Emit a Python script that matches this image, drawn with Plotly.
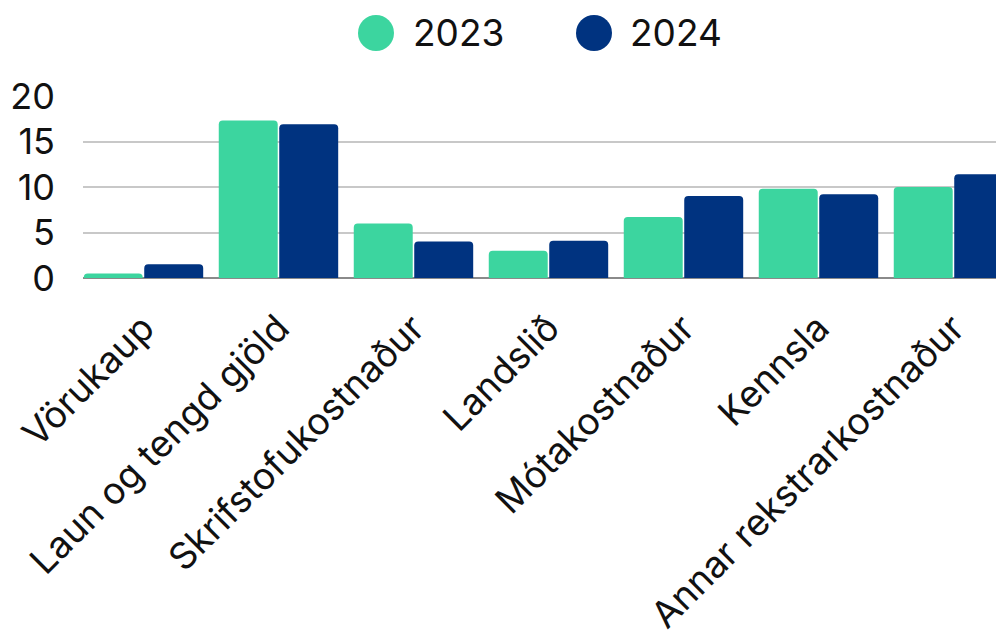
import plotly.graph_objects as go

categories = ["Vörukaup", "Laun og tengd gjöld", "Skrifstofukostnaður", "Landslið",
              "Mótakostnaður", "Kennsla", "Annar rekstrarkostnaður"]
values_2023 = [0.5, 17.3, 6.0, 3.0, 6.7, 9.8, 10.0]
values_2024 = [1.5, 16.9, 4.0, 4.1, 9.0, 9.2, 11.4]
series_names = ["2023", "2024"]
y_ticks = [0, 5, 10, 15, 20]

GREEN = "#3CD59F"
BLUE = "#003380"
FONT = "Inter"

OFF = 8  # page body margin
W, H = 1004, 639
L, R, T, B = 75, 0, 88, 369
PW, PH = W - L - R, H - T - B
CAT_PX = 135.0
x0 = -0.448
x_range = [x0, x0 + PW / CAT_PX]

fig = go.Figure()
fig.add_trace(go.Bar(x=categories, y=values_2023, name=series_names[0],
                     marker=dict(color=GREEN, cornerradius=4, line=dict(width=0)),
                     showlegend=False))
fig.add_trace(go.Bar(x=categories, y=values_2024, name=series_names[1],
                     marker=dict(color=BLUE, cornerradius=4, line=dict(width=0)),
                     showlegend=False))


def px_to_paper(sx, sy):
    fx, fy = sx - OFF, sy - OFF
    return (fx - L) / PW, (H - B - fy) / PH


shapes = []
annotations = []
for cx, tx, color, label in [(376, 411, GREEN, series_names[0]), (594, 628, BLUE, series_names[1])]:
    xp, yp = px_to_paper(cx, 33)
    shapes.append(dict(type="circle", xref="paper", yref="paper", xsizemode="pixel", ysizemode="pixel",
                       xanchor=xp, yanchor=yp, x0=-18, x1=18, y0=-18, y1=18,
                       fillcolor=color, line=dict(width=0)))
    txp, typ = px_to_paper(tx, 33)
    annotations.append(dict(text=label, xref="paper", yref="paper", x=txp, y=typ,
                            xanchor="left", yanchor="middle", showarrow=False,
                            font=dict(family=FONT, size=37, color="#111111")))

fig.update_layout(
    width=W, height=H,
    margin=dict(l=L, r=R, t=T, b=B, autoexpand=False),
    paper_bgcolor="white", plot_bgcolor="white",
    barmode="group", bargap=0.104, bargroupgap=0.025,
    font=dict(family=FONT, size=36, color="#111111"),
    shapes=shapes, annotations=annotations,
    showlegend=False,
)
fig.update_xaxes(range=x_range, tickangle=-45, showgrid=False, zeroline=False,
                 showline=False, ticks="", ticklabelstandoff=20,
                 tickfont=dict(family=FONT, size=37, color="#111111"),
                 automargin=False)
fig.update_yaxes(range=[0, 20], tickvals=y_ticks, showgrid=True, gridcolor="#c8c8c8", gridwidth=1.5,
                 zeroline=True, zerolinecolor="#8a8a8a", zerolinewidth=1.5, showline=False,
                 ticks="", ticklabelstandoff=27, tickfont=dict(family=FONT, size=36, color="#111111"),
                 automargin=False)

fig.write_html("out.html")
